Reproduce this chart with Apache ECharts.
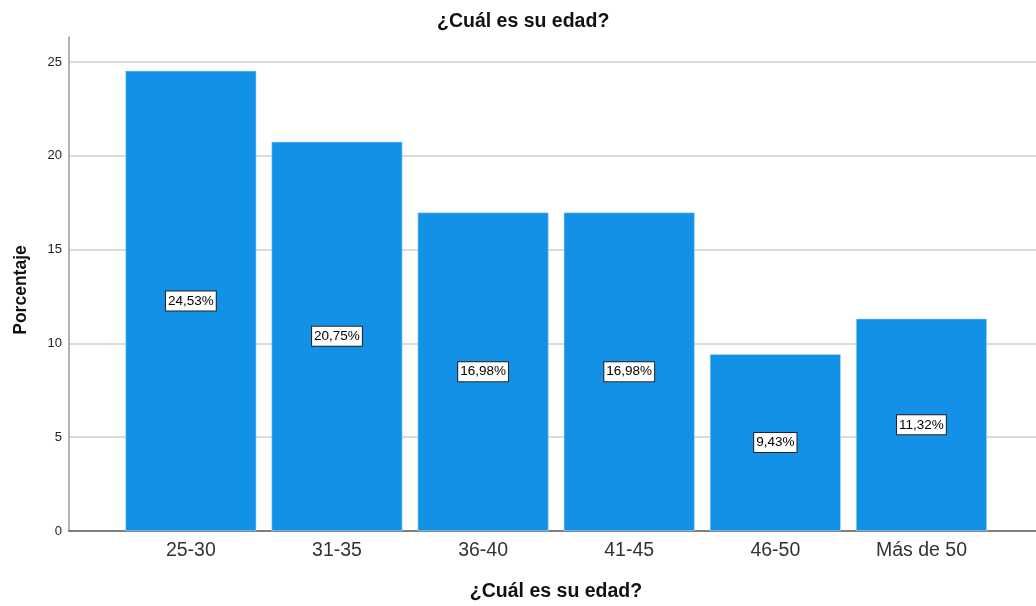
<!DOCTYPE html>
<html>
<head>
<meta charset="utf-8">
<script src="https://cdn.jsdelivr.net/npm/echarts@6/dist/echarts.min.js"></script>
<style>html,body{margin:0;padding:0;background:#fff;}#c{width:1036px;height:606px;}</style>
</head>
<body>
<div id="c"></div>
<script>
const categories = ['25-30', '31-35', '36-40', '41-45', '46-50', 'Más de 50'];
const values = [24.53, 20.75, 16.98, 16.98, 9.43, 11.32];
const yTicks = [0, 5, 10, 15, 20, 25];
const titleText = '¿Cuál es su edad?';
const yName = 'Porcentaje';

const font = 'Liberation Sans, Arial, sans-serif';
const chart = echarts.init(document.getElementById('c'));
chart.setOption({
  backgroundColor: '#fff',
  animation: false,
  title: {
    text: titleText, left: 432, top: 7,
    textStyle: { fontFamily: font, fontSize: 19.5, fontWeight: 'bold', color: '#111' }
  },
  grid: { left: 69, right: 0, top: 37, bottom: 75, outerBoundsMode: 'none', containLabel: false },
  xAxis: {
    type: 'value',
    min: -0.834, max: 5.784,
    name: titleText, nameLocation: 'middle', nameGap: 51,
    nameTextStyle: { fontFamily: font, fontSize: 19.5, fontWeight: 'bold', color: '#111', padding: [0, 0, 0, 7] },
    axisLine: { show: true, onZero: false, lineStyle: { color: '#555', width: 1.5 } },
    axisTick: { show: false },
    splitLine: { show: false },
    axisLabel: {
      customValues: categories.map((_, i) => i),
      formatter: v => categories[Math.round(v)] ?? '',
      fontFamily: font, fontSize: 19.5, color: '#333', margin: 10
    }
  },
  yAxis: {
    type: 'value', min: 0, max: 26.33, interval: 5,
    name: yName, nameLocation: 'middle', nameGap: 39, nameRotate: 90,
    nameTextStyle: { fontFamily: font, fontSize: 17.5, fontWeight: 'bold', color: '#111', padding: [0, 12, 0, 0] },
    axisLine: { show: true, onZero: false, lineStyle: { color: '#999', width: 1.5 } },
    axisTick: { show: false },
    axisLabel: {
      customValues: yTicks,
      fontFamily: font, fontSize: 13, color: '#222', margin: 7
    },
    splitLine: { show: true, showMaxLine: false, showMinLine: false, lineStyle: { color: '#cfcfcf', width: 1.5 } }
  },
  series: [{
    type: 'bar',
    barWidth: 131,
    data: values.map((v, i) => [i, v]),
    itemStyle: { color: '#1391e6', borderColor: '#bfe0f7', borderWidth: 0.6 },
    label: {
      show: true, position: 'inside',
      formatter: p => p.value[1].toFixed(2).replace('.', ',') + '%',
      fontFamily: font, fontSize: 13.5, lineHeight: 15, color: '#000',
      backgroundColor: '#fff', borderColor: '#222', borderWidth: 1,
      padding: [2, 2, 2, 2]
    }
  }]
});
</script>
</body>
</html>
